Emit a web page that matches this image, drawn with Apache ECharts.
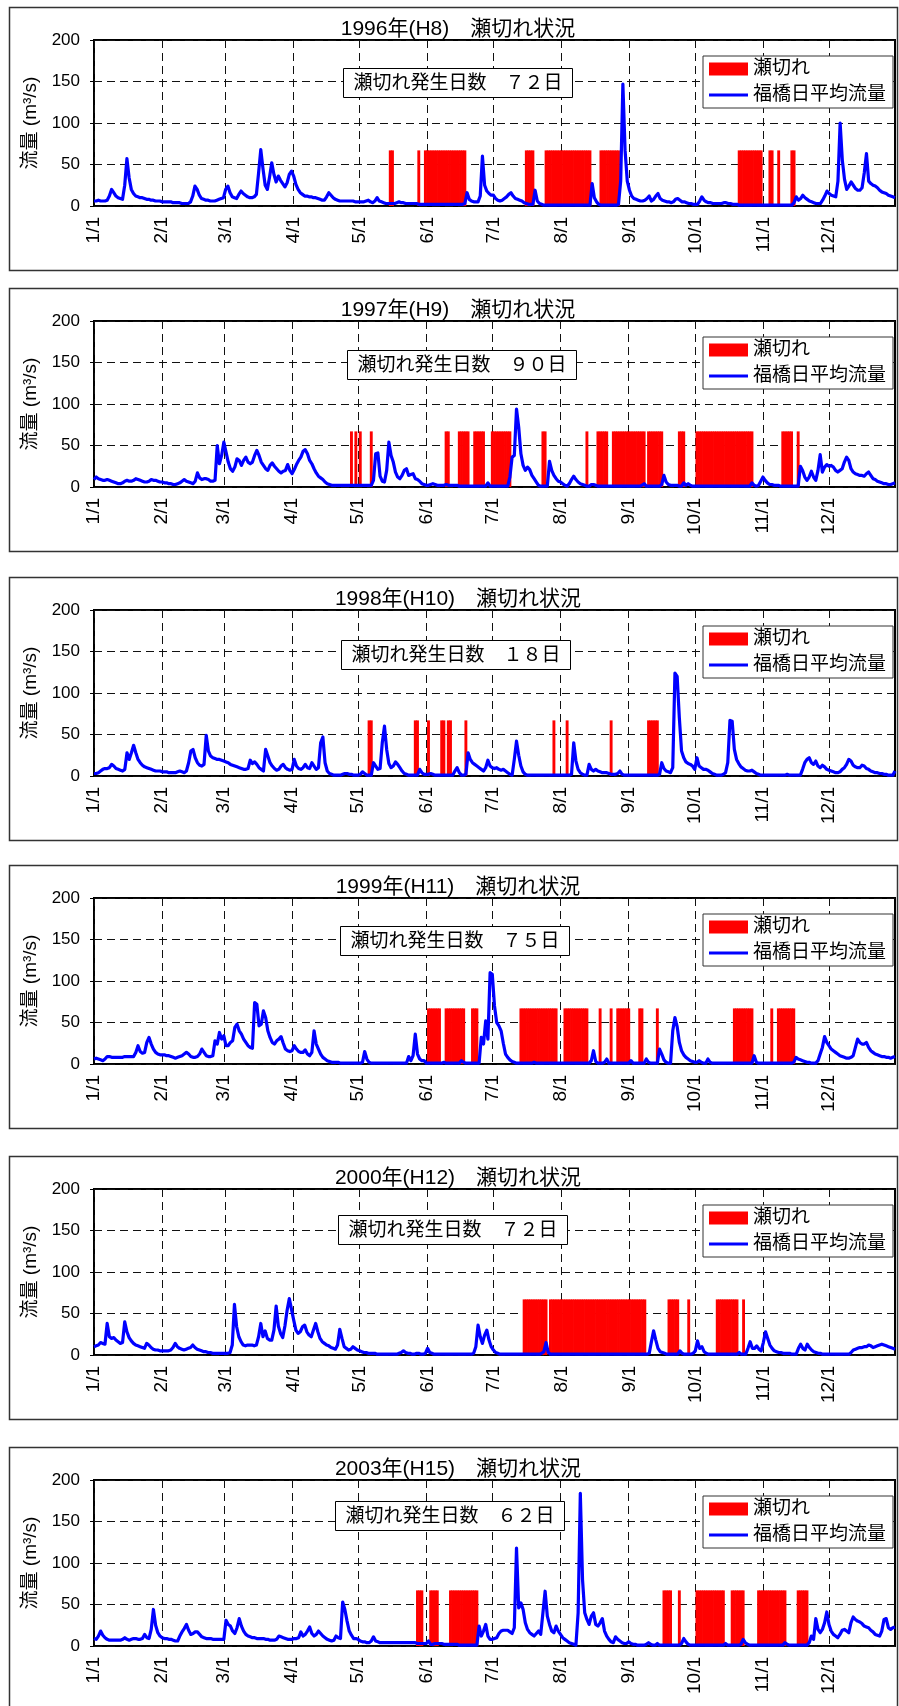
<!DOCTYPE html>
<html>
<head>
<meta charset="utf-8">
<script src="https://cdn.jsdelivr.net/npm/echarts/dist/echarts.min.js"></script>
<style>
  html, body { margin: 0; padding: 0; background: #fff; }
  #chart { width: 899px; height: 1706px; }
</style>
</head>
<body>
<div id="chart"></div>
<script>
// ---- Data: daily mean discharge at Fukuhashi (m3/s), one inner array per month ----
const flow1996 = [
  [6,6,7,6,6,6,7,12,20,16,12,10,9,8,25,57,34,20,15,12,11,10,10,9,8,8,7,7,6,6,6],
  [5,5,5,5,5,4,4,4,4,3,3,3,3,5,12,24,20,13,9,8,7,7,6,6,6,7,8,9,10],
  [20,24,16,11,10,9,14,18,15,13,11,10,10,11,14,40,68,45,25,20,35,52,38,29,36,31,27,23,28,38,42],
  [36,26,20,16,14,12,12,11,11,10,10,9,8,7,7,11,16,13,10,8,7,6,6,6,6,6,6,6,5,5],
  [5,5,5,6,7,5,4,6,10,6,5,4,3,3,3,3,3,4,5,4,4,3,3,3,3,3,3,2,2,2,2],
  [2,2,2,2,2,2,2,2,2,2,2,2,2,2,2,2,2,3,16,8,6,5,5,5,12,60,25,18,15,13],
  [13,9,7,6,7,9,11,14,16,12,9,8,7,6,4,3,2,2,2,19,6,3,2,1,1,1,1,1,1,1,1],
  [1,1,1,1,1,1,1,1,1,1,1,1,1,1,27,10,5,2,1,1,1,1,1,1,1,1,2,30,147,67,30],
  [19,12,9,8,7,6,6,7,9,12,6,8,12,15,9,7,6,5,5,4,5,8,9,7,5,5,4,3,3,2],
  [2,2,6,11,7,5,4,4,3,3,3,3,3,4,4,3,3,2,2,2,1,1,1,1,1,1,1,1,1,1,1],
  [1,1,1,1,1,1,1,1,1,1,1,1,1,1,4,11,7,9,13,10,8,6,5,4,3,3,3,7,12,18],
  [15,13,12,11,30,100,55,32,20,24,29,25,21,19,19,22,40,63,30,27,25,24,22,19,17,16,15,13,12,11,10]
];
const flow1997 = [
  [9,12,10,9,8,8,9,8,7,6,5,4,4,5,7,8,7,7,8,10,9,8,7,6,6,7,9,8,8,7,6],
  [6,5,5,4,4,3,3,4,5,7,9,7,6,5,4,7,17,11,9,10,10,9,7,7,8,50,28,38],
  [54,42,30,22,19,24,34,32,26,32,36,30,28,30,38,44,38,30,26,22,20,26,29,25,22,19,17,19,20,27,20],
  [16,21,27,32,36,43,45,40,32,28,22,17,13,11,9,6,4,3,2,2,2,2,2,2,2,2,2,2,2,2],
  [2,2,2,2,2,2,2,8,40,41,13,7,6,20,54,38,30,18,12,10,14,20,22,14,15,16,10,9,7,4,3],
  [2,2,3,4,3,2,2,2,2,3,2,2,2,2,2,1,1,1,1,1,1,1,1,1,1,1,1,1,5,1],
  [1,1,1,1,1,1,1,1,12,36,38,94,72,40,26,20,24,21,14,10,6,2,1,1,1,1,31,20,14,10,7],
  [6,4,2,1,4,9,13,9,6,4,3,2,1,1,3,3,2,1,1,1,1,1,1,1,1,1,1,1,1,1,1],
  [1,1,1,1,1,1,2,4,1,1,1,1,1,1,1,3,14,6,3,2,2,2,2,1,1,5,2,4,2,1],
  [1,1,1,1,1,1,1,1,1,1,1,1,1,1,1,1,1,1,1,1,1,1,1,1,1,1,5,2,1,2,7],
  [12,8,5,3,3,2,2,2,1,1,1,1,1,1,1,1,1,25,20,12,8,12,19,12,8,20,39,18,24,27],
  [25,26,24,20,18,20,22,30,36,32,22,18,16,15,14,14,13,16,18,14,10,9,7,6,5,4,4,3,3,4,5]
];
const flow1998 = [
  [3,3,4,6,8,9,9,10,14,12,9,8,7,6,8,28,20,28,37,28,20,16,13,11,10,9,8,7,6,6,6],
  [5,5,5,4,4,4,4,5,6,5,4,6,16,30,32,22,16,13,12,14,49,30,24,22,21,20,20,19],
  [18,17,16,14,13,12,11,10,9,8,8,9,19,15,17,14,10,8,6,32,24,16,12,9,7,8,12,14,10,8,7],
  [8,20,12,9,8,10,14,10,9,16,12,8,10,40,47,16,6,3,2,1,1,1,1,2,3,3,2,2,1,1],
  [1,2,5,3,1,1,1,16,12,8,9,40,60,32,15,10,12,17,14,10,6,3,2,1,1,1,1,1,8,4,2],
  [2,2,3,2,1,1,1,1,1,1,1,1,1,6,10,4,1,1,2,28,20,16,14,12,10,8,6,10,19,12],
  [10,9,10,8,7,8,6,4,2,1,20,42,25,12,5,2,1,1,1,1,1,1,1,1,1,1,1,1,1,1,1],
  [1,1,1,1,1,2,40,18,8,4,2,1,1,14,8,6,8,6,5,4,4,4,3,2,2,2,3,6,2,1,1],
  [1,1,1,1,1,1,1,1,1,1,1,1,1,1,2,16,9,6,5,4,10,124,120,70,30,22,17,15,14,12],
  [8,22,12,10,8,8,7,5,3,2,1,1,1,2,4,16,67,66,32,20,15,11,9,7,6,6,7,5,3,2,1],
  [1,1,1,1,1,1,1,1,1,1,1,2,1,1,1,1,1,1,8,16,20,22,16,14,18,12,10,13,11,8],
  [7,6,5,4,4,5,8,10,14,20,18,13,11,10,10,13,12,9,8,6,5,4,4,3,3,2,2,1,1,1,6]
];
const flow1999 = [
  [6,7,6,5,4,6,9,9,8,8,8,8,8,8,9,9,9,9,9,14,22,15,13,14,26,32,24,18,14,12,11],
  [11,11,10,10,9,8,7,8,9,10,12,14,12,9,8,8,9,12,18,14,10,9,9,10,28,24,38,30],
  [34,22,22,26,28,44,48,40,36,30,26,22,20,19,74,72,46,48,64,56,40,32,26,24,28,30,33,25,18,16,15],
  [16,22,18,15,14,14,17,12,10,14,40,24,18,12,8,6,4,3,2,2,2,2,1,1,1,1,1,1,1,1],
  [1,1,2,15,6,2,1,1,1,1,1,1,1,1,1,1,1,1,1,1,1,1,1,9,4,10,36,12,6,4,4],
  [1,1,1,1,1,1,1,1,2,1,1,1,1,1,1,1,4,2,1,1,1,1,1,1,1,32,24,52,30,110],
  [108,70,50,46,40,25,12,8,5,3,2,1,1,1,1,1,1,1,1,2,1,1,1,1,1,1,1,1,1,1,1],
  [1,1,1,1,1,1,1,1,1,1,1,1,1,1,4,16,3,1,1,1,2,6,1,1,1,1,1,1,1,1,1],
  [1,4,1,1,1,1,1,1,6,2,1,1,1,1,18,12,5,2,1,1,40,56,45,26,16,11,8,6,4,3],
  [2,2,4,2,1,1,6,2,1,1,1,1,1,1,1,1,1,1,1,1,1,1,1,1,1,1,1,10,2,1,1],
  [1,1,1,1,1,1,1,1,1,1,1,1,1,1,2,8,6,5,4,3,2,2,1,1,1,4,12,20,33,26],
  [22,18,16,14,12,10,9,8,7,7,8,10,20,30,26,24,24,26,20,16,14,12,11,10,9,9,8,8,7,8,9]
];
const flow2000 = [
  [10,11,12,15,14,13,38,22,20,21,18,16,14,15,40,28,21,17,14,12,11,10,9,8,14,12,9,7,6,6,5],
  [5,5,5,5,6,9,14,10,8,7,6,7,8,9,12,9,7,6,5,4,4,3,3,2,2,2,2,2,2],
  [2,2,3,12,61,34,22,16,12,11,12,12,12,11,12,22,38,22,29,20,18,18,30,59,35,26,21,35,54,68,55],
  [42,30,26,28,34,36,28,24,22,30,38,28,20,16,14,12,11,9,8,7,12,31,20,10,8,6,7,10,8,6],
  [5,4,3,3,2,2,2,2,1,1,1,1,1,1,1,1,1,1,2,3,5,3,2,2,1,1,2,2,1,1,2],
  [8,3,2,1,1,1,1,1,1,1,1,1,1,1,1,1,1,1,1,1,1,2,10,36,22,14,24,30,18,10],
  [6,3,2,1,1,1,1,1,1,1,1,1,1,1,1,1,1,1,1,1,1,1,2,4,15,3,1,1,1,1,1],
  [1,1,1,1,1,1,1,1,1,1,1,1,1,1,1,1,1,1,1,1,1,1,1,1,1,1,1,1,1,1,1],
  [1,1,1,1,1,1,1,1,1,2,16,29,18,8,4,3,2,1,1,1,1,1,1,5,2,1,1,1,1,2],
  [5,17,8,10,4,2,1,1,1,1,1,1,1,1,1,1,1,1,1,1,3,1,1,1,8,16,8,8,11,7,5],
  [15,28,20,12,8,5,4,3,3,2,2,2,2,1,1,1,8,13,8,6,13,9,6,4,3,2,2,1,1,1],
  [1,1,1,1,1,1,1,1,1,1,3,6,7,8,9,9,10,10,12,11,9,10,11,12,13,12,11,10,9,8,7]
];
const flow2003 = [
  [9,8,12,18,13,10,8,7,7,7,7,7,7,8,10,8,7,8,9,9,8,8,9,14,10,9,20,44,25,16,12],
  [10,9,9,8,8,7,6,6,12,17,21,26,19,14,15,17,17,14,11,10,9,9,9,8,8,8,8,8],
  [8,31,26,24,18,15,22,33,24,18,14,12,11,10,10,9,9,9,9,8,8,7,7,7,8,12,11,10,9,8,8],
  [8,9,9,10,17,12,14,18,23,15,12,14,18,15,12,10,8,7,6,7,12,10,9,53,44,30,18,13,9,9],
  [8,6,5,5,4,4,6,11,6,5,4,4,4,4,4,4,4,4,4,4,4,4,4,4,4,4,4,3,3,3,3],
  [3,6,2,2,3,3,3,3,2,2,2,2,2,2,2,1,1,1,1,1,1,1,1,1,24,12,18,26,12,8],
  [8,9,10,15,18,19,19,19,17,15,22,118,46,52,44,28,20,16,14,12,15,18,14,40,66,36,26,18,16,24,18],
  [14,10,8,6,4,3,2,1,40,184,80,40,32,26,36,40,26,24,28,33,18,12,8,5,4,11,8,6,4,3,3],
  [5,3,2,2,1,1,1,1,2,4,2,1,1,3,1,1,1,1,1,1,1,1,1,1,3,9,5,2,1,1],
  [1,1,1,1,1,1,1,1,1,1,1,1,1,1,3,1,1,1,1,1,1,2,8,4,2,1,1,1,1,1,1],
  [1,1,1,1,1,1,1,1,1,1,4,2,1,1,1,1,1,1,1,1,1,4,12,8,33,20,16,20,28,41],
  [26,18,14,12,10,14,19,20,18,16,28,35,32,30,29,27,24,23,22,19,17,14,13,12,18,32,33,22,20,22,23]
];

// ---- Data: days with a dried-up channel (瀬切れ), as inclusive date ranges ----
const dry1996 = [['5/15','5/16'],['5/28','5/28'],['5/31','6/18'],['7/16','7/19'],['7/25','8/14'],
  ['8/19','8/27'],['10/21','10/31'],['11/4','11/5'],['11/8','11/8'],['11/14','11/15']];
const dry1997 = [['4/28','4/28'],['4/30','4/30'],['5/2','5/2'],['5/7','5/7'],['6/10','6/11'],['6/16','6/20'],
  ['6/23','6/27'],['7/1','7/9'],['7/24','7/25'],['8/13','8/13'],['8/18','8/22'],['8/25','9/8'],
  ['9/10','9/16'],['9/24','9/26'],['10/2','10/27'],['11/10','11/14'],['11/17','11/17']];
const dry1998 = [['5/6','5/7'],['5/27','5/28'],['6/2','6/2'],['6/8','6/9'],['6/11','6/12'],['6/19','6/19'],
  ['7/29','7/29'],['8/4','8/4'],['8/24','8/24'],['9/10','9/14']];
const dry1999 = [['6/2','6/7'],['6/10','6/18'],['6/22','6/24'],['7/14','7/30'],['8/3','8/13'],['8/19','8/19'],
  ['8/24','8/24'],['8/27','9/1'],['9/6','9/7'],['9/14','9/14'],['10/19','10/27'],['11/5','11/5'],['11/8','11/15']];
const dry2000 = [['7/15','7/25'],['7/27','9/8'],['9/19','9/23'],['9/28','9/28'],['10/11','10/20'],['10/23','10/23']];
const dry2003 = [['5/28','5/30'],['6/3','6/6'],['6/12','6/24'],['9/17','9/20'],['9/24','9/24'],['10/2','10/14'],
  ['10/18','10/23'],['10/30','11/11'],['11/17','11/21']];

const years = [1996, 1997, 1998, 1999, 2000, 2003];
const eras = ['H8', 'H9', 'H10', 'H11', 'H12', 'H15'];
const flows = [flow1996, flow1997, flow1998, flow1999, flow2000, flow2003];
const drySpells = [dry1996, dry1997, dry1998, dry1999, dry2000, dry2003];
const yTicks = [0, 50, 100, 150, 200];
const DRY_BAR_LEVEL = 67;           // height at which dry days are flagged
const NAME_DRY = '瀬切れ';
const NAME_FLOW = '福橋日平均流量';

// ---- Layout ----
const frameTops = [7, 288, 577, 865, 1156, 1447];
const noteCenters = [448, 452, 446, 445, 443, 440];
const noteTops = [68, 350, 640, 926, 1215, 1501];
const FONT = '"Liberation Sans", "Noto Sans CJK JP", sans-serif';
// a plain horizontal stroke used as the legend key for the flow line
const LINE_KEY = 'path://M0,0 L39,0 L39,3.2 L0,3.2 Z';

function dayLabels(year) {
  const lens = [31, year % 4 === 0 ? 29 : 28, 31, 30, 31, 30, 31, 31, 30, 31, 30, 31];
  const out = [];
  lens.forEach((n, m) => { for (let d = 1; d <= n; d++) out.push((m + 1) + '/' + d); });
  return out;
}
const toWide = s => String(s).replace(/[0-9]/g, c => String.fromCharCode(c.charCodeAt(0) + 0xFEE0));
const isMonthStart = (idx, val) => /\/1$/.test(val);

const option = {
  animation: false,
  backgroundColor: '#fff',
  textStyle: { fontFamily: FONT, color: '#000' },
  title: [], legend: [], grid: [], xAxis: [], yAxis: [], series: [], graphic: []
};

years.forEach((year, i) => {
  const T = frameTops[i];
  const plotTop = T + 33;
  const labels = dayLabels(year);
  const flow = [].concat(...flows[i]);
  const dry = labels.map(() => null);
  drySpells[i].forEach(([a, b]) => {
    for (let k = labels.indexOf(a); k <= labels.indexOf(b); k++) dry[k] = DRY_BAR_LEVEL;
  });
  const dryCount = dry.filter(v => v !== null).length;

  option.graphic.push({
    type: 'rect', silent: true, z: 0,
    shape: { x: 9.5, y: T + 0.5, width: 888, height: 263 },
    style: { fill: null, stroke: '#333', lineWidth: 1.5 }
  });

  option.title.push({
    text: year + '年(' + eras[i] + ')　瀬切れ状況',
    left: 458, top: T + 12, textAlign: 'center', padding: 0,
    textStyle: { fontSize: 21, fontWeight: 'normal', color: '#000', fontFamily: FONT }
  });
  option.title.push({
    text: '瀬切れ発生日数　' + toWide(dryCount) + '日',
    left: noteCenters[i], top: noteTops[i], textAlign: 'center',
    padding: [6, 10, 5, 10], borderColor: '#000', borderWidth: 1, backgroundColor: '#fff',
    textStyle: { fontSize: 19, fontWeight: 'normal', color: '#000', fontFamily: FONT }
  });

  option.legend.push({
    orient: 'vertical', left: 703, top: plotTop + 16,
    padding: [3, 7, 3, 6], itemGap: 6, itemWidth: 39, itemHeight: 13,
    borderColor: '#333', borderWidth: 1, backgroundColor: '#fff',
    selectedMode: false,
    textStyle: { fontSize: 19, lineHeight: 20, color: '#000', fontFamily: FONT },
    data: [{ name: NAME_DRY, icon: 'rect' }, { name: NAME_FLOW, icon: LINE_KEY }]
  });

  option.grid.push({
    left: 94, top: plotTop, width: 801, height: 166,
    show: true, borderColor: '#000', borderWidth: 2, backgroundColor: 'transparent'
  });

  option.xAxis.push({
    type: 'category', gridIndex: i, data: labels, boundaryGap: false,
    axisLine: { show: false }, axisTick: { show: false },
    axisLabel: { interval: isMonthStart, rotate: 90, margin: 11, fontSize: 19, color: '#000', fontFamily: FONT },
    splitLine: { show: true, interval: isMonthStart, lineStyle: { color: '#111', width: 1, type: [8, 5] } }
  });

  option.yAxis.push({
    type: 'value', gridIndex: i, min: yTicks[0], max: yTicks[yTicks.length - 1],
    interval: yTicks[1] - yTicks[0],
    name: '流量 (m³/s)', nameLocation: 'middle', nameGap: 46,
    nameTextStyle: { fontSize: 19, color: '#000', fontFamily: FONT },
    axisLine: { show: false },
    axisTick: { show: true, length: 4, lineStyle: { color: '#000' } },
    axisLabel: { margin: 14, fontSize: 17, color: '#000', fontFamily: FONT },
    splitLine: { show: true, lineStyle: { color: '#111', width: 1, type: [8, 5] } }
  });

  option.series.push({
    name: NAME_DRY, type: 'bar', xAxisIndex: i, yAxisIndex: i,
    data: dry, barWidth: 2.9, barGap: '0%',
    itemStyle: { color: '#ff0000' },
    emphasis: { disabled: true }
  });
  option.series.push({
    name: NAME_FLOW, type: 'line', xAxisIndex: i, yAxisIndex: i,
    data: flow, symbol: 'none', showSymbol: false,
    lineStyle: { color: '#0000ff', width: 3.2, join: 'round' },
    itemStyle: { color: '#0000ff' },
    emphasis: { disabled: true }
  });
});

const chart = echarts.init(document.getElementById('chart'), null, { renderer: 'canvas' });
chart.setOption(option);
</script>
</body>
</html>
